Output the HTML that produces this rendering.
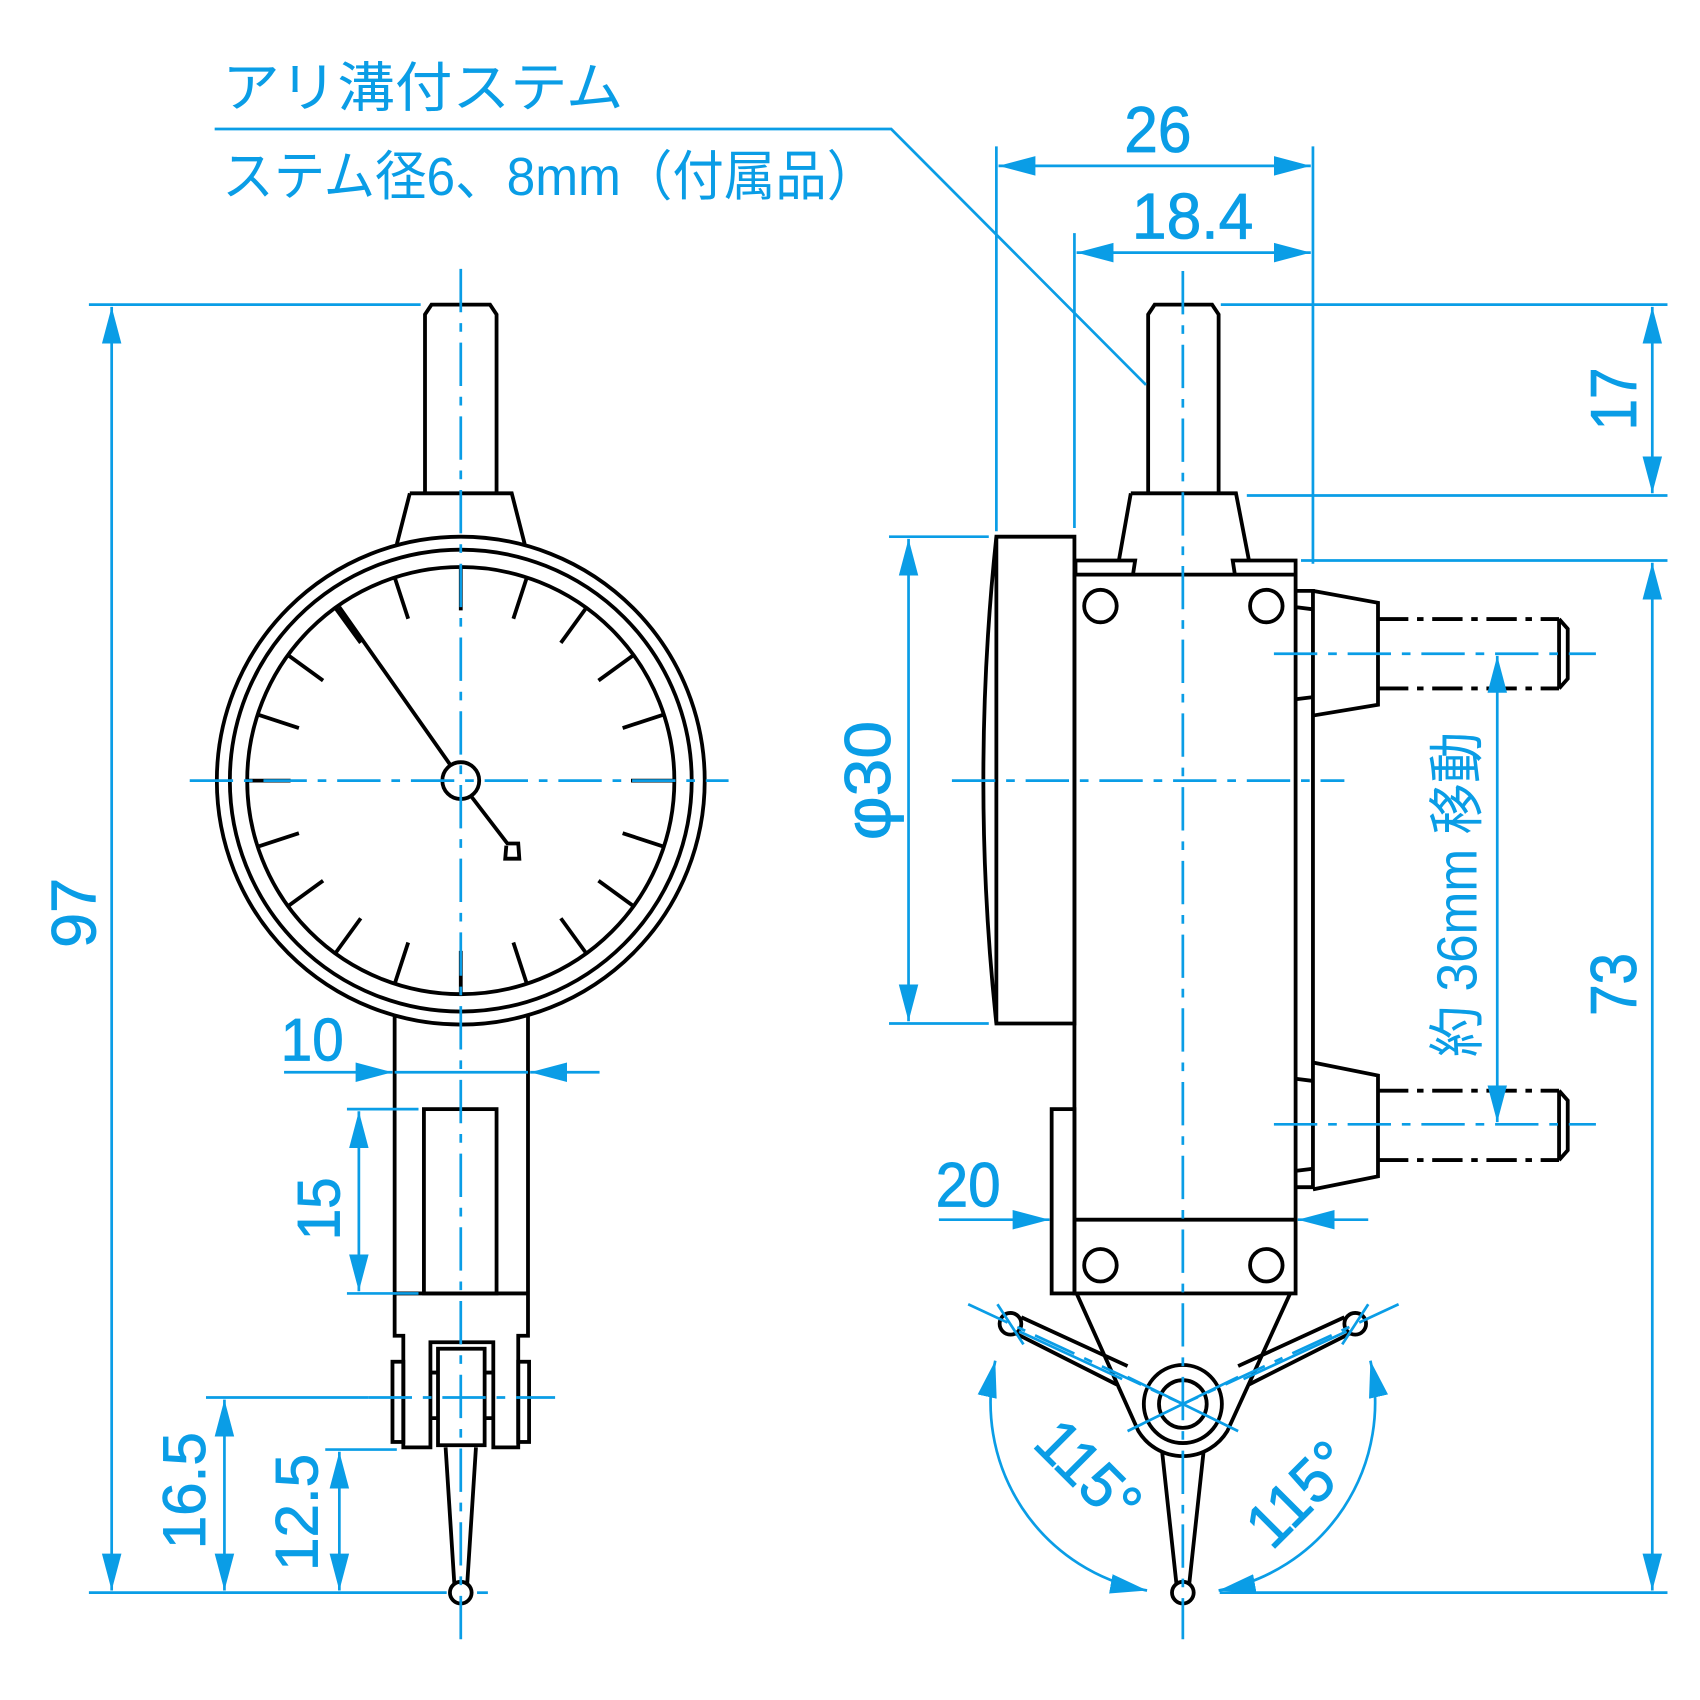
<!DOCTYPE html>
<html><head><meta charset="utf-8"><style>
html,body{margin:0;padding:0;background:#fff;}
svg{display:block}
.b{stroke:#000;stroke-width:3.5;fill:none;stroke-linejoin:miter}
.c{stroke:#0a9de6;stroke-width:2.5;fill:none}
.cl{stroke:#0a9de6;stroke-width:2.5;fill:none;stroke-dasharray:40 10 8 10}
.t{fill:#0a9de6;font-family:"Liberation Sans","Noto Sans CJK JP",sans-serif}
.d{stroke:#0a9de6;stroke-width:0.8}
</style></head><body>
<svg width="1700" height="1700" viewBox="0 0 1568 1568" xmlns="http://www.w3.org/2000/svg">
<defs>
<marker id="a" markerUnits="userSpaceOnUse" markerWidth="36" markerHeight="20" refX="34" refY="9" orient="auto-start-reverse" viewBox="0 0 36 18">
<polygon points="0,0 34,9 0,18" fill="#0a9de6"/></marker>
</defs>

<!-- ===== LEFT VIEW ===== -->
<path class="b" d="M392,455 V290 L398,281 H452 L458,290 V455"/>
<path class="b" d="M378,455 H472 L484,502 M378,455 L366,502"/>
<circle class="b" cx="425" cy="720" r="225"/>
<circle class="b" cx="425" cy="720" r="213"/>
<circle class="b" cx="425" cy="720" r="197"/>
<g class="b">
<line x1="425" y1="563" x2="425" y2="523"/>
<line x1="473.5" y1="570.7" x2="485.9" y2="532.7"/>
<line x1="517.3" y1="593" x2="540.8" y2="560.6"/>
<line x1="552" y1="627.7" x2="584.4" y2="604.2"/>
<line x1="574.3" y1="671.5" x2="612.3" y2="659.1"/>
<line x1="582" y1="720" x2="622" y2="720"/>
<line x1="574.3" y1="768.5" x2="612.3" y2="780.9"/>
<line x1="552" y1="812.3" x2="584.4" y2="835.8"/>
<line x1="517.3" y1="847" x2="540.8" y2="879.4"/>
<line x1="473.5" y1="869.3" x2="485.9" y2="907.3"/>
<line x1="425" y1="877" x2="425" y2="917"/>
<line x1="376.5" y1="570.7" x2="364.1" y2="532.7"/>
<line x1="332.7" y1="593" x2="309.2" y2="560.6"/>
<line x1="298" y1="627.7" x2="265.6" y2="604.2"/>
<line x1="275.7" y1="671.5" x2="237.7" y2="659.1"/>
<line x1="268" y1="720" x2="228" y2="720"/>
<line x1="275.7" y1="768.5" x2="237.7" y2="780.9"/>
<line x1="298" y1="812.3" x2="265.6" y2="835.8"/>
<line x1="332.7" y1="847" x2="309.2" y2="879.4"/>
<line x1="376.5" y1="869.3" x2="364.1" y2="907.3"/>
</g>
<path class="b" d="M313,560 L415,705 M435,735 L468,778 L478,778 L479,792 L466,792 L467,780" />
<circle class="b" cx="425" cy="720" r="17" style="fill:#fff"/>
<path class="b" d="M364,937 V1232 H372 V1335 H397 V1238 H455 V1335 H478 V1232 H487 V937"/>
<rect class="b" x="391" y="1023" width="67" height="170"/>
<line class="b" x1="364" y1="1193" x2="487" y2="1193"/>
<rect class="b" x="362" y="1256" width="10" height="74"/>
<rect class="b" x="478" y="1256" width="10" height="74"/>
<rect class="b" x="404" y="1244" width="43" height="89"/>
<path class="b" d="M397,1266 H404 M397,1308 H404 M447,1266 H455 M447,1308 H455"/>
<path class="b" d="M411,1335 L419,1460 M439,1335 L431,1460"/>
<circle class="b" cx="425" cy="1469" r="10"/>

<line class="cl" x1="425" y1="248" x2="425" y2="1512"/>
<line class="cl" x1="175" y1="720" x2="672" y2="720"/>
<line class="c" x1="82" y1="281" x2="388" y2="281"/>
<line class="c" x1="82" y1="1469" x2="412" y2="1469"/>
<line class="c" x1="440" y1="1469" x2="450" y2="1469"/>
<line class="c" x1="103" y1="283" x2="103" y2="1467" marker-start="url(#a)" marker-end="url(#a)"/>
<text class="t d" font-size="58" transform="translate(88,842) rotate(-90)" text-anchor="middle">97</text>
<line class="c" x1="262" y1="989" x2="362" y2="989" marker-end="url(#a)"/>
<line class="c" x1="553" y1="989" x2="489" y2="989" marker-end="url(#a)"/>
<line class="c" x1="364" y1="989" x2="487" y2="989"/>
<text class="t d" font-size="56" x="288" y="978" text-anchor="middle" textLength="58" lengthAdjust="spacingAndGlyphs">10</text>
<line class="c" x1="320" y1="1023" x2="386" y2="1023"/>
<line class="c" x1="320" y1="1193" x2="386" y2="1193"/>
<line class="c" x1="331" y1="1025" x2="331" y2="1191" marker-start="url(#a)" marker-end="url(#a)"/>
<text class="t d" font-size="56" transform="translate(313,1115) rotate(-90)" text-anchor="middle" textLength="58" lengthAdjust="spacingAndGlyphs">15</text>
<line class="c" x1="190" y1="1289" x2="340" y2="1289"/>
<line class="cl" x1="340" y1="1289" x2="512" y2="1289"/>
<line class="c" x1="207" y1="1291" x2="207" y2="1467" marker-start="url(#a)" marker-end="url(#a)"/>
<text class="t d" font-size="56" transform="translate(189,1375) rotate(-90)" text-anchor="middle" textLength="108" lengthAdjust="spacingAndGlyphs">16.5</text>
<line class="c" x1="300" y1="1337" x2="366" y2="1337"/>
<line class="c" x1="313" y1="1339" x2="313" y2="1467" marker-start="url(#a)" marker-end="url(#a)"/>
<text class="t d" font-size="56" transform="translate(293,1395) rotate(-90)" text-anchor="middle" textLength="108" lengthAdjust="spacingAndGlyphs">12.5</text>

<!-- ===== RIGHT VIEW ===== -->
<path class="b" d="M1059,455 V290 L1065,281 H1118 L1124,290 V455"/>
<path class="b" d="M1043,455 H1140 L1152,517 M1043,455 L1032,517"/>
<path class="b" d="M992,530 V517 H1047 L1045,530 M1195,530 V517 H1137 L1139,530"/>
<rect class="b" x="991" y="530" width="204" height="663"/>
<path class="b" d="M919,495 H991 V944 H919 Q895,720 919,495 Z"/>
<path class="b" d="M919,495 V944"/>
<rect class="b" x="970" y="1023" width="21" height="170"/>
<line class="b" x1="991" y1="1125" x2="1195" y2="1125"/>
<circle class="b" cx="1015" cy="559" r="15"/>
<circle class="b" cx="1168" cy="559" r="15"/>
<circle class="b" cx="1015" cy="1167" r="15"/>
<circle class="b" cx="1168" cy="1167" r="15"/>
<path class="b" d="M1195,545 H1211 V1095 H1195"/>
<path class="b" d="M1211,545 L1271,556 V650 L1211,660"/>
<path class="b" d="M1211,980 L1271,992 V1085 L1211,1097"/>
<path class="b" d="M1195,560 L1211,562 M1195,645 L1211,643 M1195,995 L1211,997 M1195,1080 L1211,1078"/>
<g class="b" style="stroke-dasharray:28 8 6 8">
<line x1="1271" y1="571" x2="1438" y2="571"/>
<line x1="1271" y1="635" x2="1438" y2="635"/>
<line x1="1271" y1="1006" x2="1438" y2="1006"/>
<line x1="1271" y1="1070" x2="1438" y2="1070"/>
</g>
<path class="b" d="M1438,571 L1446,580 V626 L1438,635 M1438,571 V635 M1438,1006 L1446,1015 V1061 L1438,1070 M1438,1006 V1070"/>
<path class="b" d="M993,1193 L1050,1320 A48,48 0 0 0 1132,1320 L1190,1193"/>
<circle class="b" cx="1091" cy="1295" r="36"/>
<circle class="b" cx="1091" cy="1295" r="22"/>
<path class="b" d="M1030,1277 L937,1230 M1040,1260 L942,1215"/>
<path class="b" d="M1152,1277 L1245,1230 M1142,1260 L1240,1215"/>
<circle class="b" cx="932" cy="1221" r="10"/>
<circle class="b" cx="1250" cy="1221" r="10"/>
<path class="b" d="M1072,1340 L1085,1460 M1110,1340 L1097,1460"/>
<circle class="b" cx="1091" cy="1469" r="10"/>

<line class="cl" x1="1091" y1="250" x2="1091" y2="1512"/>
<line class="cl" x1="878" y1="720" x2="1240" y2="720"/>
<line class="cl" x1="893" y1="1203" x2="1091" y2="1295"/>
<line class="cl" x1="1290" y1="1203" x2="1091" y2="1295"/>
<line class="c" x1="940" y1="1228" x2="1035" y2="1272"/>
<line class="c" x1="1242" y1="1228" x2="1147" y2="1272"/>
<line class="c" x1="1040" y1="1320" x2="1142" y2="1270"/>
<line class="c" x1="1040" y1="1270" x2="1142" y2="1320"/>
<line class="c" x1="920" y1="1203" x2="944" y2="1240"/>
<line class="c" x1="1262" y1="1203" x2="1238" y2="1240"/>
<path class="c" d="M918,1255 A176,176 0 0 0 1058,1467" marker-start="url(#a)" marker-end="url(#a)"/>
<path class="c" d="M1264,1255 A176,176 0 0 1 1124,1467" marker-start="url(#a)" marker-end="url(#a)"/>
<text class="t d" font-size="58" transform="translate(990,1372) rotate(45)" text-anchor="middle" textLength="110" lengthAdjust="spacingAndGlyphs">115°</text>
<text class="t d" font-size="58" transform="translate(1212,1392) rotate(-45)" text-anchor="middle" textLength="110" lengthAdjust="spacingAndGlyphs">115°</text>

<line class="c" x1="919" y1="135" x2="919" y2="490"/>
<line class="c" x1="1211" y1="135" x2="1211" y2="520"/>
<line class="c" x1="991" y1="215" x2="991" y2="487"/>
<line class="c" x1="921" y1="153" x2="1209" y2="153" marker-start="url(#a)" marker-end="url(#a)"/>
<text class="t d" font-size="60" x="1068" y="140" text-anchor="middle" textLength="62" lengthAdjust="spacingAndGlyphs">26</text>
<line class="c" x1="993" y1="233" x2="1209" y2="233" marker-start="url(#a)" marker-end="url(#a)"/>
<text class="t d" font-size="60" x="1100" y="220" text-anchor="middle" textLength="112" lengthAdjust="spacingAndGlyphs">18.4</text>

<line class="c" x1="1126" y1="281" x2="1538" y2="281"/>
<line class="c" x1="1150" y1="457" x2="1538" y2="457"/>
<line class="c" x1="1200" y1="517" x2="1538" y2="517"/>
<line class="c" x1="1125" y1="1469" x2="1538" y2="1469"/>
<line class="c" x1="1524" y1="283" x2="1524" y2="455" marker-start="url(#a)" marker-end="url(#a)"/>
<text class="t d" font-size="60" transform="translate(1509,368) rotate(-90)" text-anchor="middle" textLength="58" lengthAdjust="spacingAndGlyphs">17</text>
<line class="c" x1="1524" y1="519" x2="1524" y2="1467" marker-start="url(#a)" marker-end="url(#a)"/>
<text class="t d" font-size="60" transform="translate(1509,908) rotate(-90)" text-anchor="middle" textLength="58" lengthAdjust="spacingAndGlyphs">73</text>

<line class="c" x1="820" y1="495" x2="912" y2="495"/>
<line class="c" x1="820" y1="944" x2="912" y2="944"/>
<line class="c" x1="838" y1="497" x2="838" y2="942" marker-start="url(#a)" marker-end="url(#a)"/>
<text class="t d" font-size="60" transform="translate(821,720) rotate(-90)" text-anchor="middle" textLength="110" lengthAdjust="spacingAndGlyphs">φ30</text>

<line class="cl" x1="1175" y1="603" x2="1472" y2="603"/>
<line class="cl" x1="1175" y1="1037" x2="1472" y2="1037"/>
<line class="c" x1="1381" y1="605" x2="1381" y2="1035" marker-start="url(#a)" marker-end="url(#a)"/>
<text class="t" font-size="52" transform="translate(1362,825) rotate(-90)" text-anchor="middle" textLength="300" lengthAdjust="spacingAndGlyphs">約 36mm 移動</text>

<line class="c" x1="866" y1="1125" x2="968" y2="1125" marker-end="url(#a)"/>
<line class="c" x1="1262" y1="1125" x2="1197" y2="1125" marker-end="url(#a)"/>
<text class="t d" font-size="58" x="893" y="1113" text-anchor="middle" textLength="60" lengthAdjust="spacingAndGlyphs">20</text>

<polyline class="c" points="198,119 822,119 1057,355"/>
<text class="t" font-size="50" x="205" y="98" textLength="370" lengthAdjust="spacingAndGlyphs">アリ溝付ステム</text>
<text class="t" font-size="50" x="205" y="180" textLength="605" lengthAdjust="spacingAndGlyphs">ステム径6、8mm（付属品）</text>
</svg>
</body></html>
